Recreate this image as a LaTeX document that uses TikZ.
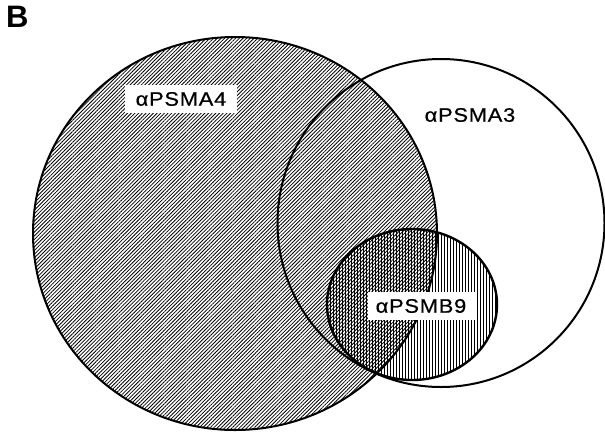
\documentclass[tikz,border=0pt]{standalone}
\usepackage{fontspec}
\setmainfont{Liberation Sans}
\newfontfamily\labelfont[FakeStretch=1.12,LetterSpace=4,FakeBold=0.6]{Liberation Sans}
\usetikzlibrary{patterns.meta}
\begin{document}
\begin{tikzpicture}[x=1pt,y=-1pt,
  setline/.style={line width=2pt,draw=black},
  setlabel/.style={font=\labelfont\fontsize{19.5}{23}\selectfont,inner sep=0pt,
    minimum height=28pt},
  boxlabel/.style={setlabel,fill=white,minimum width=112pt}]
\useasboundingbox (0,0) rectangle (605,432);
% panel letter
\node[font=\bfseries\fontsize{31}{34}\selectfont,anchor=north west,inner sep=0pt] (panel) at (6,6) {B};
% alphaPSMA4: diagonal hatching
\path[pattern={Lines[angle=45,distance=2.6pt,line width=0.8pt]}] (235,233.5) ellipse [x radius=202,y radius=196.5];
\draw[setline] (235,233.5) ellipse [x radius=202,y radius=196.5];
% alphaPSMA3: open set
\draw[setline] (441,223) ellipse [x radius=163.5,y radius=164];
% alphaPSMB9: vertical hatching
\path[pattern={Lines[angle=90,distance=3pt,line width=0.95pt]}] (412,304.5) ellipse [x radius=85,y radius=75.5];
\draw[line width=2.4pt] (412,304.5) ellipse [x radius=85,y radius=75.5];
% set names
\node[boxlabel] (a4) at (181,99) {αPSMA4};
\node[setlabel] (a3) at (470,115) {αPSMA3};
\node[boxlabel,minimum width=107pt] (b9) at (421,306) {αPSMB9};
\end{tikzpicture}
\end{document}
